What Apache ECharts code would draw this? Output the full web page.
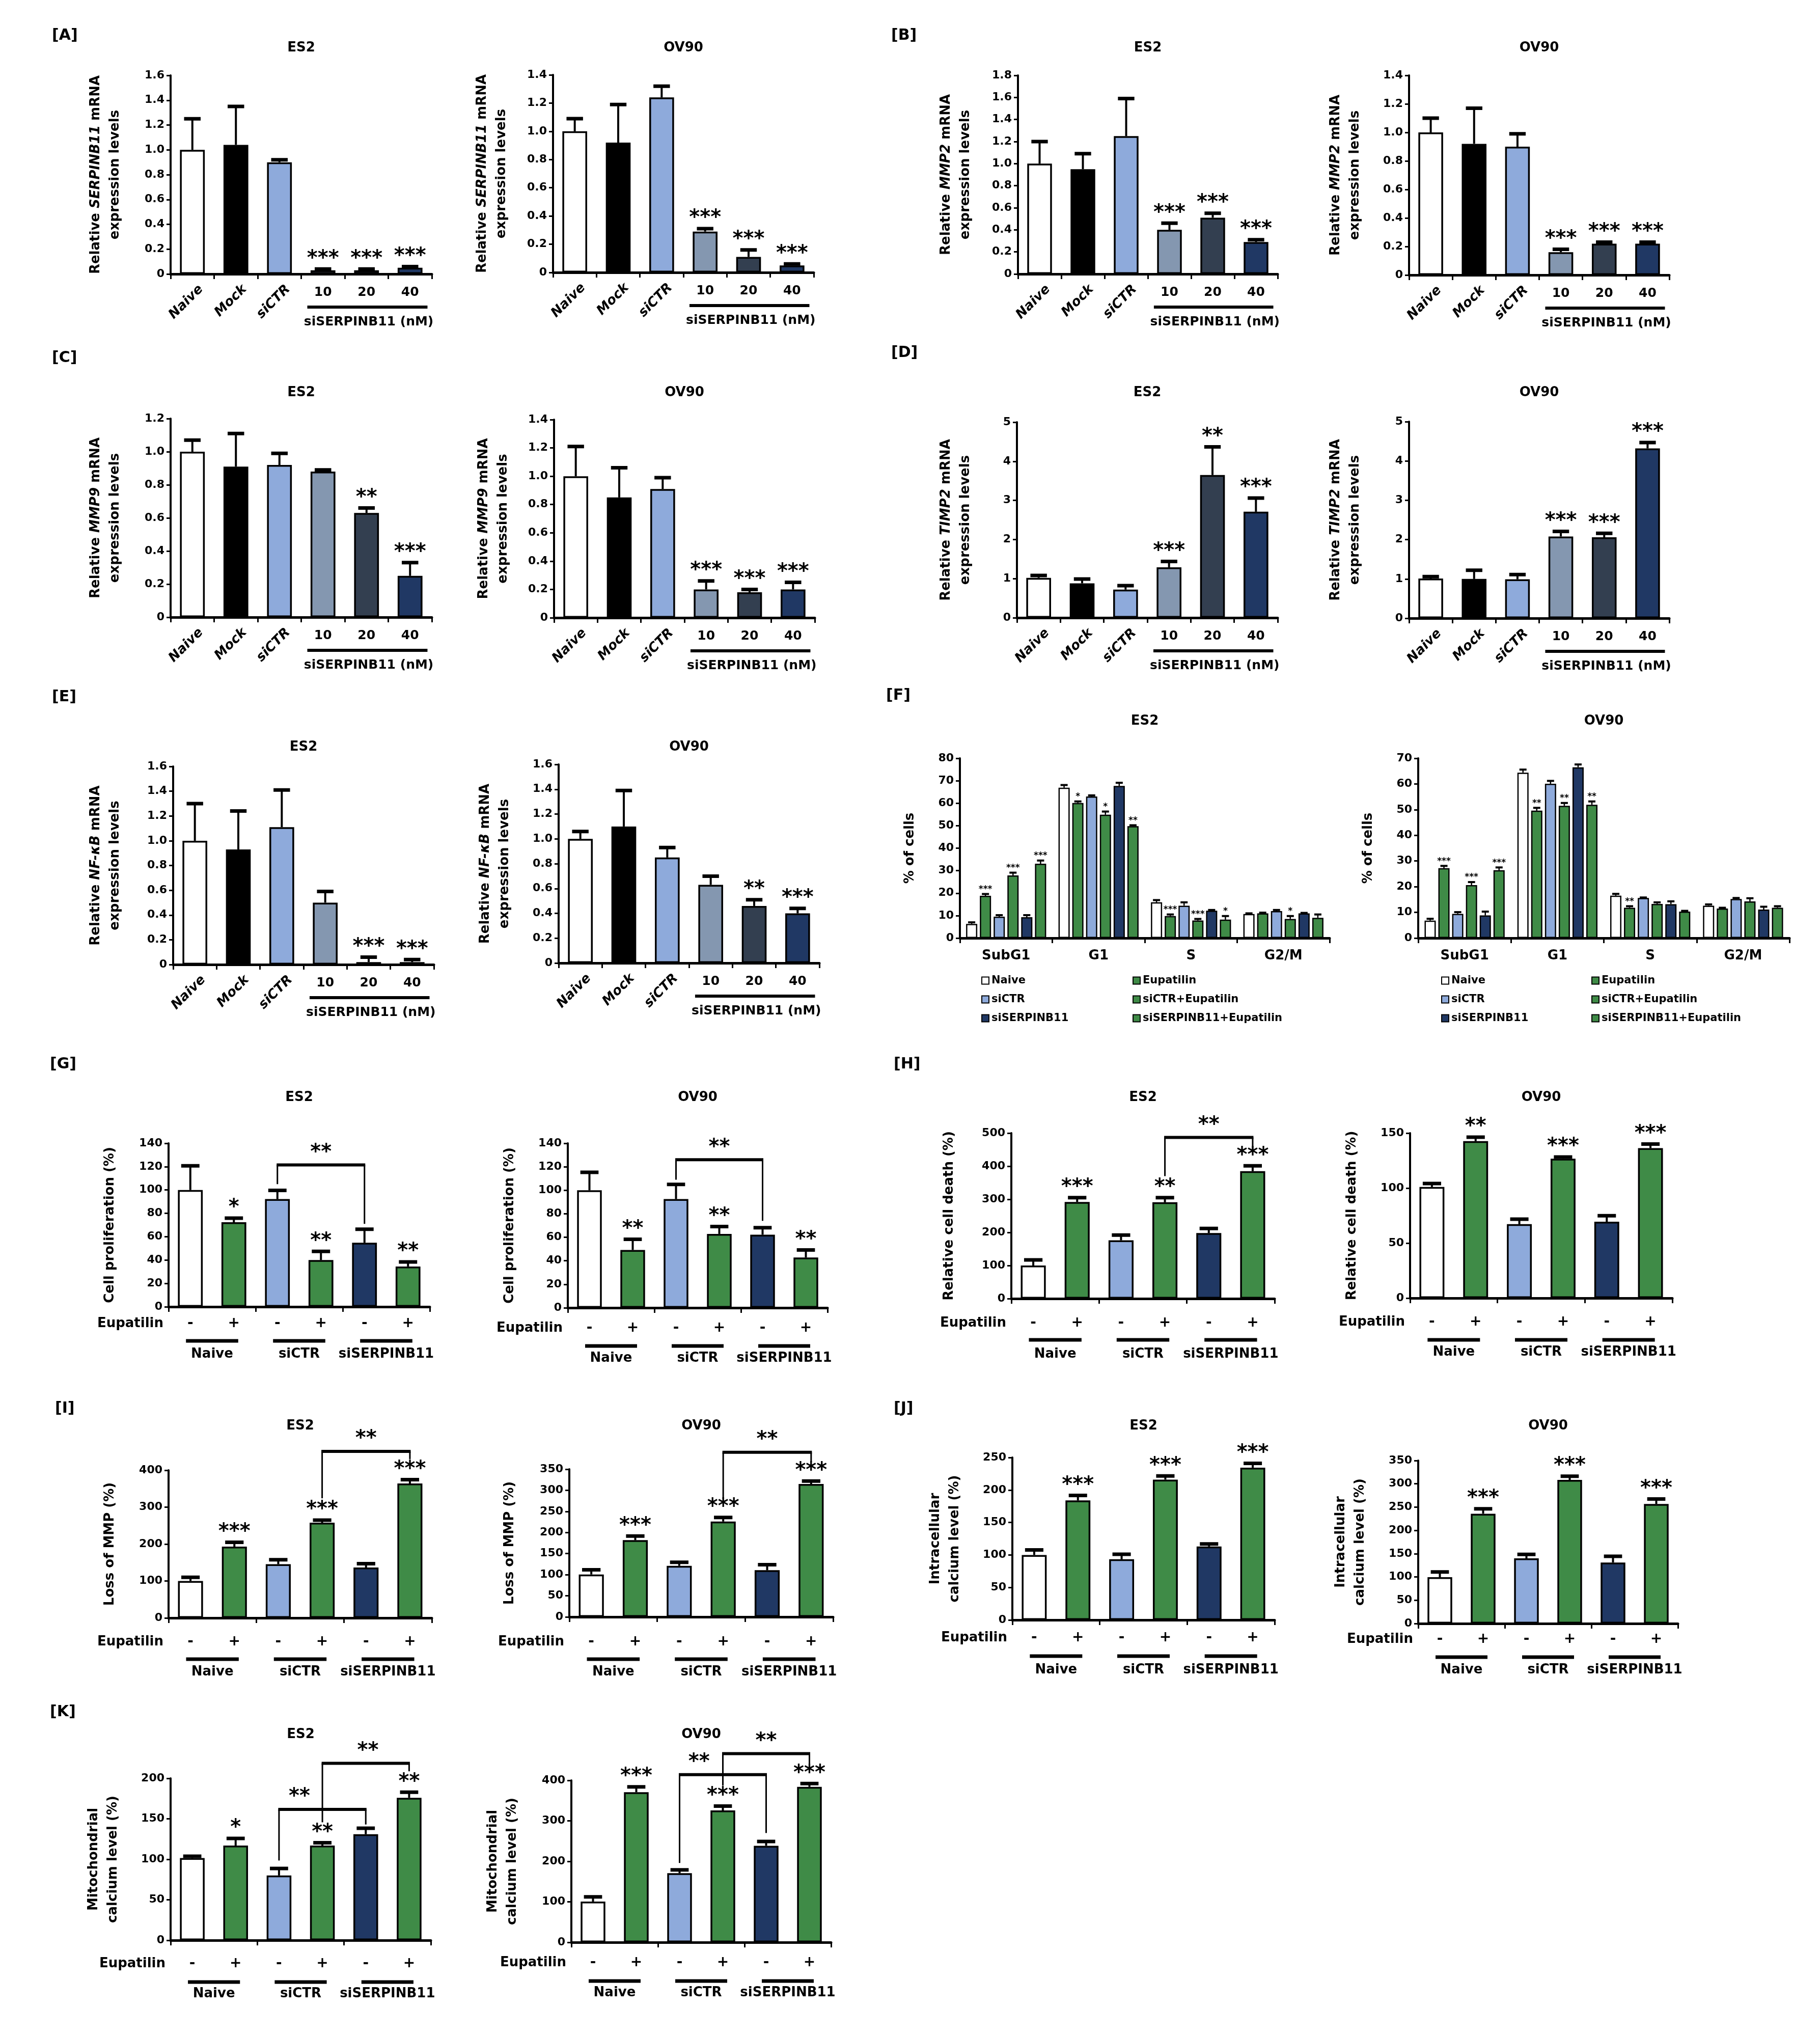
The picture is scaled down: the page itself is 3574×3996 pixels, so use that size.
<!DOCTYPE html>
<html><head><meta charset="utf-8">
<script src="https://cdn.jsdelivr.net/npm/echarts@6/dist/echarts.min.js"></script>
<style>html,body{margin:0;padding:0;background:#fff}#c{width:3574px;height:3996px}</style>
</head><body><div id="c"></div>
<script>
// ---------------- categories / labels ----------------
const doseCats = ['Naive', 'Mock', 'siCTR', '10', '20', '40'];
const doseGroupLabel = 'siSERPINB11 (nM)';
const eupCats = ['Naive -', 'Naive +', 'siCTR -', 'siCTR +', 'siSERPINB11 -', 'siSERPINB11 +'];
const eupSigns = ['-', '+', '-', '+', '-', '+'];
const eupGroups = ['Naive', 'siCTR', 'siSERPINB11'];
const phaseCats = ['SubG1', 'G1', 'S', 'G2/M'];
const cycleSeries = ['Naive', 'Eupatilin', 'siCTR', 'siCTR+Eupatilin', 'siSERPINB11', 'siSERPINB11+Eupatilin'];

// ---------------- [A] SERPINB11 ----------------
const A_ES2_mean = [1.00, 1.04, 0.90, 0.03, 0.03, 0.05];
const A_ES2_sd   = [0.25, 0.31, 0.02, 0.01, 0.01, 0.01];
const A_ES2_sig  = ['', '', '', '***', '***', '***'];
const A_OV90_mean = [1.00, 0.92, 1.24, 0.29, 0.11, 0.05];
const A_OV90_sd   = [0.09, 0.27, 0.08, 0.02, 0.05, 0.01];
const A_OV90_sig  = ['', '', '', '***', '***', '***'];
// ---------------- [B] MMP2 ----------------
const B_ES2_mean = [1.00, 0.95, 1.25, 0.40, 0.51, 0.29];
const B_ES2_sd   = [0.20, 0.14, 0.34, 0.06, 0.04, 0.02];
const B_ES2_sig  = ['', '', '', '***', '***', '***'];
const B_OV90_mean = [1.00, 0.92, 0.90, 0.16, 0.22, 0.22];
const B_OV90_sd   = [0.10, 0.25, 0.09, 0.02, 0.01, 0.01];
const B_OV90_sig  = ['', '', '', '***', '***', '***'];
// ---------------- [C] MMP9 ----------------
const C_ES2_mean = [1.00, 0.91, 0.92, 0.88, 0.63, 0.25];
const C_ES2_sd   = [0.07, 0.20, 0.07, 0.01, 0.03, 0.08];
const C_ES2_sig  = ['', '', '', '', '**', '***'];
const C_OV90_mean = [1.00, 0.85, 0.91, 0.20, 0.18, 0.20];
const C_OV90_sd   = [0.21, 0.21, 0.08, 0.06, 0.02, 0.05];
const C_OV90_sig  = ['', '', '', '***', '***', '***'];
// ---------------- [D] TIMP2 ----------------
const D_ES2_mean = [1.02, 0.88, 0.72, 1.29, 3.65, 2.71];
const D_ES2_sd   = [0.06, 0.11, 0.10, 0.15, 0.72, 0.35];
const D_ES2_sig  = ['', '', '', '***', '**', '***'];
const D_OV90_mean = [1.01, 1.00, 0.99, 2.08, 2.06, 4.32];
const D_OV90_sd   = [0.05, 0.22, 0.12, 0.13, 0.10, 0.15];
const D_OV90_sig  = ['', '', '', '***', '***', '***'];
// ---------------- [E] NF-kB ----------------
const E_ES2_mean = [1.00, 0.93, 1.11, 0.50, 0.02, 0.02];
const E_ES2_sd   = [0.30, 0.31, 0.30, 0.09, 0.04, 0.02];
const E_ES2_sig  = ['', '', '', '', '***', '***'];
const E_OV90_mean = [1.00, 1.10, 0.85, 0.63, 0.46, 0.40];
const E_OV90_sd   = [0.06, 0.29, 0.08, 0.07, 0.05, 0.04];
const E_OV90_sig  = ['', '', '', '', '**', '***'];
// ---------------- [F] cell cycle (rows = cycleSeries, cols = phaseCats) ----------------
const F_ES2_mean = [[6.3, 66.9, 15.9, 10.7], [18.8, 60.1, 9.8, 11.0], [9.5, 63.0, 14.4, 12.0],
                    [27.9, 54.9, 7.8, 8.5], [9.3, 67.7, 12.2, 11.0], [33.1, 49.8, 8.2, 9.0]];
const F_ES2_sd   = [[0.7, 1.2, 1.0, 0.3], [0.8, 0.7, 0.7, 0.3], [0.7, 0.5, 1.5, 0.5],
                    [1.2, 1.4, 0.7, 1.3], [0.9, 1.4, 0.3, 0.2], [1.4, 0.4, 1.6, 1.5]];
const F_ES2_sig  = [['', '', '', ''], ['***', '*', '***', ''], ['', '', '', ''],
                    ['***', '*', '***', '*'], ['', '', '', ''], ['***', '**', '*', '']];
const F_OV90_mean = [[6.8, 64.4, 16.5, 12.6], [27.2, 49.6, 11.8, 11.5], [9.4, 60.1, 15.6, 15.2],
                     [20.6, 51.5, 13.3, 14.3], [8.8, 66.5, 13.2, 11.1], [26.4, 51.9, 10.3, 11.8]];
const F_OV90_sd   = [[0.7, 1.2, 0.7, 0.5], [0.9, 1.1, 0.6, 0.3], [0.7, 1.1, 0.2, 0.4],
                     [1.2, 1.1, 0.6, 1.2], [1.5, 1.1, 1.1, 1.1], [1.1, 1.3, 0.3, 0.6]];
const F_OV90_sig  = [['', '', '', ''], ['***', '**', '**', ''], ['', '', '', ''],
                     ['***', '**', '', ''], ['', '', '', ''], ['***', '**', '', '']];
// ---------------- [G] proliferation ----------------
// brackets: [fromCat, toCat, top, leftEnd, rightEnd, label, labelCatX]
const G_ES2_mean = [100, 72.4, 92.2, 40.0, 54.8, 34.5];
const G_ES2_sd   = [20.7, 3.5, 7.5, 7.4, 11.6, 3.9];
const G_ES2_sig  = ['', '*', '', '**', '', '**'];
const G_ES2_brackets = [[2, 4, 121.5, 105, 71, '**', 3]];
const G_OV90_mean = [100, 49.2, 92.5, 62.9, 62.2, 42.8];
const G_OV90_sd   = [15.3, 9.1, 12.5, 6.2, 6.0, 6.4];
const G_OV90_sig  = ['', '**', '', '**', '', '**'];
const G_OV90_brackets = [[2, 4, 126, 109, 74, '**', 3]];
// ---------------- [H] cell death ----------------
const H_ES2_mean = [100, 292, 176, 291, 198, 385];
const H_ES2_sd   = [17, 13, 16, 14, 14, 16];
const H_ES2_sig  = ['', '***', '', '**', '', '***'];
const H_ES2_brackets = [[3, 5, 487, 370, 450, '**', 4]];
const H_OV90_mean = [101, 142.7, 67.2, 126.7, 69.4, 136.3];
const H_OV90_sd   = [3.2, 3.6, 4.6, 1.5, 5.5, 3.8];
const H_OV90_sig  = ['', '**', '', '***', '', '***'];
// ---------------- [I] loss of MMP ----------------
const I_ES2_mean = [100, 193, 145.5, 258, 136.5, 364];
const I_ES2_sd   = [10, 12, 12, 7, 10.5, 10.6];
const I_ES2_sig  = ['', '***', '', '***', '', '***'];
const I_ES2_brackets = [[3, 5, 451, 324, 430, '**', 4]];
const I_OV90_mean = [100.6, 182, 121, 226, 110.8, 315];
const I_OV90_sd   = [11, 9.6, 8.3, 9.5, 12.9, 7];
const I_OV90_sig  = ['', '***', '', '***', '', '***'];
const I_OV90_brackets = [[3, 5, 390, 279, 367, '**', 4]];
// ---------------- [J] intracellular calcium ----------------
const J_ES2_mean = [100, 184, 93.4, 216, 113, 234.4];
const J_ES2_sd   = [7.8, 7.6, 7.6, 5.6, 3.9, 6.6];
const J_ES2_sig  = ['', '***', '', '***', '', '***'];
const J_OV90_mean = [99.5, 235.8, 140, 308.4, 131, 256.8];
const J_OV90_sd   = [11.3, 10.5, 8.6, 8, 13.4, 10.5];
const J_OV90_sig  = ['', '***', '', '***', '', '***'];
// ---------------- [K] mitochondrial calcium ----------------
const K_ES2_mean = [101.5, 117, 80, 117, 131, 176];
const K_ES2_sd   = [2.3, 8.8, 8.7, 3.5, 7.3, 6.8];
const K_ES2_sig  = ['', '*', '', '**', '', '**'];
const K_ES2_brackets = [[2, 4, 161.6, 98.5, 143, '**', 2.47], [3, 5, 218.5, 145.7, 208.7, '**', 4.05]];
const K_OV90_mean = [100.7, 370.9, 170.6, 325.8, 238.4, 384];
const K_OV90_sd   = [11.6, 13.1, 8.4, 10.6, 10.6, 8];
const K_OV90_sig  = ['', '***', '', '***', '', '***'];
const K_OV90_brackets = [[2, 4, 414, 196, 270, '**', 2.45], [3, 5, 466, 387, 441, '**', 4.0]];

// ---------------- styles ----------------
const FF = '"DejaVu Sans", "Liberation Sans", Arial, sans-serif';
const fnt = (size, style) => (style ? style + ' ' : '') + 'bold ' + size + 'px ' + FF;
const doseColors = ['#ffffff', '#000000', '#8eaadb', '#8497b0', '#333f50', '#203864'];
const eupColors = ['#ffffff', '#3f8b47', '#8eaadb', '#3f8b47', '#203864', '#3f8b47'];
const cycleColors = ['#ffffff', '#3f8b47', '#8eaadb', '#3f8b47', '#203864', '#3f8b47'];
const STAR = fnt(40);
const NAME_LH = 38;

const option = {
  animation: false, backgroundColor: '#ffffff',
  textStyle: { fontFamily: FF },
  grid: [], xAxis: [], yAxis: [], series: [], legend: [],
  graphic: { elements: [] }
};
const GR = option.graphic.elements;

function txt(x, y, text, font, align, vAlign, extra) {
  return Object.assign({ type: 'text', x: x, y: y, silent: true,
    style: { text: text, font: font, fill: '#000', align: align || 'center', verticalAlign: vAlign || 'middle',
             textAlign: align || 'center', textVerticalAlign: vAlign || 'middle' } }, extra || {});
}

function nameStyle() {
  const base = { fontFamily: FF, fontSize: 26, fontWeight: 'bold', color: '#000', lineHeight: NAME_LH };
  return Object.assign({}, base, { rich: { b: Object.assign({}, base), i: Object.assign({ fontStyle: 'italic' }, base) } });
}

function addAxes(p, cats, fmt, showX) {
  const gi = option.grid.length;
  option.grid.push({ left: p.box[0], top: p.box[1], width: p.box[2], height: p.box[3] });
  option.xAxis.push({
    type: 'category', gridIndex: gi, data: cats,
    axisLine: { show: true, onZero: false, lineStyle: { color: '#000', width: 5 } },
    axisTick: { show: true, length: 10, lineStyle: { color: '#000', width: 3 } },
    axisLabel: showX ? { show: true, color: '#000', fontFamily: FF, fontSize: 26, fontWeight: 'bold', margin: 22 } : { show: false },
    splitLine: { show: false }
  });
  option.yAxis.push({
    type: 'value', gridIndex: gi, min: 0, max: p.max, interval: p.step,
    axisLine: { show: true, lineStyle: { color: '#000', width: 4 } },
    axisTick: { show: true, length: 8, lineStyle: { color: '#000', width: 3 } },
    axisLabel: { color: '#000', fontFamily: FF, fontSize: 22, fontWeight: 'bold', margin: 12, formatter: fmt },
    splitLine: { show: false },
    name: p.yName, nameLocation: 'middle', nameGap: p.nameD - NAME_LH / 2,
    nameTextStyle: nameStyle()
  });
  GR.push(txt(p.box[0] + p.box[2] / 2, p.titleY, p.title, fnt(26)));
  return gi;
}

function errSeries(gi, mean, sd, sig, capFrac, lw, capW, starFont, starGap) {
  return {
    type: 'custom', xAxisIndex: gi, yAxisIndex: gi, clip: false, silent: true, z: 5,
    data: mean.map((v, i) => [i, v, sd[i]]), encode: { x: 0, y: 1 },
    renderItem: (params, api) => {
      const i = api.value(0), v = api.value(1), e = api.value(2);
      const b = api.coord([i, v]), t = api.coord([i, v + e]);
      const hw = api.size([1, 0])[0] * capFrac;
      const ch = [
        { type: 'line', shape: { x1: b[0], y1: b[1], x2: t[0], y2: t[1] }, style: { stroke: '#000', lineWidth: lw } },
        { type: 'line', shape: { x1: t[0] - hw, y1: t[1], x2: t[0] + hw, y2: t[1] }, style: { stroke: '#000', lineWidth: capW } }
      ];
      const s = sig[params.dataIndex];
      if (s) ch.push(txt(t[0], t[1] - starGap, s, starFont));
      return { type: 'group', children: ch };
    }
  };
}

function bracketSeries(gi, brackets) {
  return {
    type: 'custom', xAxisIndex: gi, yAxisIndex: gi, clip: false, silent: true, z: 6,
    data: brackets.map(b => [b[0], b[2], b[1], b[3], b[4], b[6]]), encode: { x: 0, y: 1 },
    renderItem: (params, api) => {
      const from = api.value(0), top = api.value(1), to = api.value(2), le = api.value(3), re = api.value(4), lx = api.value(5);
      const a = api.coord([from, top]), c = api.coord([to, top]);
      const l = api.coord([from, le]), r = api.coord([to, re]);
      const band = api.size([1, 0])[0];
      const labelX = a[0] + (lx - from) * band;
      return { type: 'group', children: [
        { type: 'line', shape: { x1: l[0], y1: l[1], x2: a[0], y2: a[1] }, style: { stroke: '#000', lineWidth: 3 } },
        { type: 'line', shape: { x1: c[0], y1: c[1], x2: r[0], y2: r[1] }, style: { stroke: '#000', lineWidth: 3 } },
        { type: 'line', shape: { x1: a[0] - 1.5, y1: a[1], x2: c[0] + 1.5, y2: c[1] }, style: { stroke: '#000', lineWidth: 6 } },
        txt(labelX, a[1] - 24, brackets[params.dataIndex][5], STAR)
      ] };
    }
  };
}

function doseDecor(gi) {
  return {
    type: 'custom', xAxisIndex: gi, yAxisIndex: gi, clip: false, silent: true,
    data: doseCats.map((c, i) => [i, 0]), encode: { x: 0, y: 1 },
    renderItem: (params, api) => {
      const i = params.dataIndex, p = api.coord([i, 0]), band = api.size([1, 0])[0];
      const ch = [];
      if (i < 3) {
        ch.push(txt(p[0] + band * 0.2, p[1] + 26, doseCats[i], fnt(26, 'italic'), 'right', 'middle', { rotation: Math.PI / 4 }));
      } else {
        ch.push(txt(p[0], p[1] + 36, doseCats[i], fnt(25)));
      }
      if (i === 3) {
        const q = api.coord([5, 0]);
        ch.push({ type: 'rect', shape: { x: p[0] - band * 0.36, y: p[1] + 62, width: q[0] - p[0] + band * 0.76, height: 6 }, style: { fill: '#000' } });
        ch.push(txt((p[0] + q[0]) / 2 + band * 0.05, p[1] + 94, doseGroupLabel, fnt(25)));
      }
      return { type: 'group', children: ch };
    }
  };
}

function eupDecor(gi, off) {
  return {
    type: 'custom', xAxisIndex: gi, yAxisIndex: gi, clip: false, silent: true,
    data: eupCats.map((c, i) => [i, 0]), encode: { x: 0, y: 1 },
    renderItem: (params, api) => {
      const i = params.dataIndex, p = api.coord([i, 0]), band = api.size([1, 0])[0];
      const ch = [txt(p[0], p[1] + off[0], eupSigns[i], fnt(28))];
      if (i === 0) ch.push(txt(params.coordSys.x - 10, p[1] + off[0], 'Eupatilin', fnt(26), 'right'));
      if (i % 2 === 0) {
        const q = api.coord([i + 1, 0]), cx = (p[0] + q[0]) / 2;
        ch.push({ type: 'rect', shape: { x: cx - band * 0.6, y: p[1] + off[1] - 3.5, width: band * 1.2, height: 7 }, style: { fill: '#000' } });
        ch.push(txt(cx, p[1] + off[2], eupGroups[i / 2], fnt(26)));
      }
      return { type: 'group', children: ch };
    }
  };
}

const fmt1 = v => (v === 0 ? '0' : v.toFixed(1));
const fmt0 = v => String(Math.round(v));

function addDose(p) {
  p.yName = '{b|Relative }{i|' + p.gene + '}{b| mRNA}\n{b|expression levels}';
  const gi = addAxes(p, doseCats, p.step >= 1 ? fmt0 : fmt1, false);
  option.series.push({
    type: 'bar', name: p.id, xAxisIndex: gi, yAxisIndex: gi, barWidth: '57%', silent: true, z: 2,
    itemStyle: { borderColor: '#000', borderWidth: 3.5 },
    data: p.mean.map((v, i) => ({ value: v, itemStyle: { color: doseColors[i] } }))
  });
  option.series.push(errSeries(gi, p.mean, p.sd, p.sig, 0.19, 4, 7, STAR, 20));
  option.series.push(doseDecor(gi));
}

function addEup(p) {
  const gi = addAxes(p, eupCats, fmt0, false);
  option.series.push({
    type: 'bar', name: p.id, xAxisIndex: gi, yAxisIndex: gi, barWidth: '57%', silent: true, z: 2,
    itemStyle: { borderColor: '#000', borderWidth: 3.5 },
    data: p.mean.map((v, i) => ({ value: v, itemStyle: { color: eupColors[i] } }))
  });
  option.series.push(errSeries(gi, p.mean, p.sd, p.sig, 0.21, 4, 7, STAR, 20));
  if (p.brackets) option.series.push(bracketSeries(gi, p.brackets));
  option.series.push(eupDecor(gi, p.off));
}

function addCycle(p) {
  const gi = addAxes(p, phaseCats, fmt0, true);
  const BW = 22, GAP = 0.23;
  cycleSeries.forEach((name, k) => {
    option.series.push({
      type: 'bar', name: name, xAxisIndex: gi, yAxisIndex: gi, barWidth: BW, barGap: (GAP * 100) + '%', z: 2,
      itemStyle: { color: cycleColors[k], borderColor: '#000', borderWidth: 2.5 },
      data: p.mean[k]
    });
  });
  const flat = [];
  p.mean.forEach((row, k) => row.forEach((v, j) => flat.push([j, v, p.sd[k][j], k])));
  option.series.push({
    type: 'custom', xAxisIndex: gi, yAxisIndex: gi, clip: false, silent: true, z: 5,
    data: flat, encode: { x: 0, y: 1 },
    renderItem: (params, api) => {
      const j = api.value(0), v = api.value(1), e = api.value(2), k = api.value(3);
      const total = cycleSeries.length * BW + (cycleSeries.length - 1) * BW * GAP;
      const dx = -total / 2 + k * BW * (1 + GAP) + BW / 2;
      const b = api.coord([j, v]), t = api.coord([j, v + e]);
      const x = b[0] + dx;
      const ch = [
        { type: 'line', shape: { x1: x, y1: b[1], x2: x, y2: t[1] }, style: { stroke: '#000', lineWidth: 2.5 } },
        { type: 'line', shape: { x1: x - 7, y1: t[1], x2: x + 7, y2: t[1] }, style: { stroke: '#000', lineWidth: 4 } }
      ];
      const s = p.sig[k][j];
      if (s) ch.push(txt(x, t[1] - 9, s, fnt(17)));
      return { type: 'group', children: ch };
    }
  });
  const lg = (left, names) => ({
    orient: 'vertical', left: left, top: p.legendTop, itemWidth: 14, itemHeight: 14, itemGap: 16, icon: 'rect',
    selectedMode: false, padding: 0, data: names,
    itemStyle: { borderColor: '#000', borderWidth: 2 },
    textStyle: { fontFamily: FF, fontSize: 21, fontWeight: 'bold', color: '#000' }
  });
  option.legend.push(lg(p.legendX[0], [cycleSeries[0], cycleSeries[2], cycleSeries[4]]));
  option.legend.push(lg(p.legendX[1], [cycleSeries[1], cycleSeries[3], cycleSeries[5]]));
}

// ---------------- layout ----------------
addDose({ id: 'A_ES2', title: 'ES2', gene: 'SERPINB11', mean: A_ES2_mean, sd: A_ES2_sd, sig: A_ES2_sig, max: 1.6, step: 0.2, box: [335, 148, 513, 390], nameD: 109, titleY: 94 });
addDose({ id: 'A_OV90', title: 'OV90', gene: 'SERPINB11', mean: A_OV90_mean, sd: A_OV90_sd, sig: A_OV90_sig, max: 1.4, step: 0.2, box: [1086, 147, 512, 388], nameD: 101, titleY: 94 });
addDose({ id: 'B_ES2', title: 'ES2', gene: 'MMP2', mean: B_ES2_mean, sd: B_ES2_sd, sig: B_ES2_sig, max: 1.8, step: 0.2, box: [1999, 148, 510, 390], nameD: 103, titleY: 94 });
addDose({ id: 'B_OV90', title: 'OV90', gene: 'MMP2', mean: B_OV90_mean, sd: B_OV90_sd, sig: B_OV90_sig, max: 1.4, step: 0.2, box: [2767, 148, 511, 392], nameD: 106, titleY: 94 });
addDose({ id: 'C_ES2', title: 'ES2', gene: 'MMP9', mean: C_ES2_mean, sd: C_ES2_sd, sig: C_ES2_sig, max: 1.2, step: 0.2, box: [335, 822, 513, 390], nameD: 109, titleY: 771 });
addDose({ id: 'C_OV90', title: 'OV90', gene: 'MMP9', mean: C_OV90_mean, sd: C_OV90_sd, sig: C_OV90_sig, max: 1.4, step: 0.2, box: [1088, 824, 512, 389], nameD: 100, titleY: 771 });
addDose({ id: 'D_ES2', title: 'ES2', gene: 'TIMP2', mean: D_ES2_mean, sd: D_ES2_sd, sig: D_ES2_sig, max: 5, step: 1, box: [1997, 829, 512, 384], nameD: 101, titleY: 771 });
addDose({ id: 'D_OV90', title: 'OV90', gene: 'TIMP2', mean: D_OV90_mean, sd: D_OV90_sd, sig: D_OV90_sig, max: 5, step: 1, box: [2767, 828, 511, 386], nameD: 106, titleY: 771 });
addDose({ id: 'E_ES2', title: 'ES2', gene: 'NF-κB', mean: E_ES2_mean, sd: E_ES2_sd, sig: E_ES2_sig, max: 1.6, step: 0.2, box: [340, 1505, 512, 389], nameD: 114, titleY: 1467 });
addDose({ id: 'E_OV90', title: 'OV90', gene: 'NF-κB', mean: E_OV90_mean, sd: E_OV90_sd, sig: E_OV90_sig, max: 1.6, step: 0.2, box: [1097, 1501, 512, 390], nameD: 106, titleY: 1467 });

addCycle({ id: 'F_ES2', title: 'ES2', yName: '% of cells', mean: F_ES2_mean, sd: F_ES2_sd, sig: F_ES2_sig, max: 80, step: 10, box: [1885, 1489, 726, 353], nameD: 98, titleY: 1416, legendTop: 1915, legendX: [1927, 2224] });
addCycle({ id: 'F_OV90', title: 'OV90', yName: '% of cells', mean: F_OV90_mean, sd: F_OV90_sd, sig: F_OV90_sig, max: 70, step: 10, box: [2785, 1489, 729, 353], nameD: 98, titleY: 1416, legendTop: 1915, legendX: [2830, 3125] });

addEup({ id: 'G_ES2', title: 'ES2', yName: 'Cell proliferation (%)', mean: G_ES2_mean, sd: G_ES2_sd, sig: G_ES2_sig, brackets: G_ES2_brackets, max: 140, step: 20, box: [331, 2245, 513, 321], nameD: 115, titleY: 2155, off: [33, 67, 93] });
addEup({ id: 'G_OV90', title: 'OV90', yName: 'Cell proliferation (%)', mean: G_OV90_mean, sd: G_OV90_sd, sig: G_OV90_sig, brackets: G_OV90_brackets, max: 140, step: 20, box: [1115, 2245, 510, 323], nameD: 114, titleY: 2155, off: [40, 75, 99] });
addEup({ id: 'H_ES2', title: 'ES2', yName: 'Relative cell death (%)', mean: H_ES2_mean, sd: H_ES2_sd, sig: H_ES2_sig, brackets: H_ES2_brackets, max: 500, step: 100, box: [1986, 2225, 517, 325], nameD: 122, titleY: 2155, off: [48, 81, 109] });
addEup({ id: 'H_OV90', title: 'OV90', yName: 'Relative cell death (%)', mean: H_OV90_mean, sd: H_OV90_sd, sig: H_OV90_sig, max: 150, step: 50, box: [2769, 2225, 515, 324], nameD: 114, titleY: 2155, off: [47, 82, 106] });
addEup({ id: 'I_ES2', title: 'ES2', yName: 'Loss of MMP (%)', mean: I_ES2_mean, sd: I_ES2_sd, sig: I_ES2_sig, brackets: I_ES2_brackets, max: 400, step: 100, box: [331, 2887, 517, 290], nameD: 115, titleY: 2800, off: [47, 81, 106] });
addEup({ id: 'I_OV90', title: 'OV90', yName: 'Loss of MMP (%)', mean: I_OV90_mean, sd: I_OV90_sd, sig: I_OV90_sig, brackets: I_OV90_brackets, max: 350, step: 50, box: [1118, 2885, 518, 290], nameD: 117, titleY: 2800, off: [49, 83, 108] });
addEup({ id: 'J_ES2', title: 'ES2', yName: 'Intracellular\ncalcium level (%)', mean: J_ES2_mean, sd: J_ES2_sd, sig: J_ES2_sig, max: 250, step: 50, box: [1988, 2862, 515, 319], nameD: 113, titleY: 2800, off: [35, 71, 98] });
addEup({ id: 'J_OV90', title: 'OV90', yName: 'Intracellular\ncalcium level (%)', mean: J_OV90_mean, sd: J_OV90_sd, sig: J_OV90_sig, max: 350, step: 50, box: [2785, 2868, 510, 320], nameD: 114, titleY: 2800, off: [31, 66, 91] });
addEup({ id: 'K_ES2', title: 'ES2', yName: 'Mitochondrial\ncalcium level (%)', mean: K_ES2_mean, sd: K_ES2_sd, sig: K_ES2_sig, brackets: K_ES2_brackets, max: 200, step: 50, box: [335, 3492, 511, 318], nameD: 113, titleY: 3406, off: [46, 82, 105] });
addEup({ id: 'K_OV90', title: 'OV90', yName: 'Mitochondrial\ncalcium level (%)', mean: K_OV90_mean, sd: K_OV90_sd, sig: K_OV90_sig, brackets: K_OV90_brackets, max: 400, step: 100, box: [1122, 3496, 510, 318], nameD: 116, titleY: 3406, off: [40, 76, 99] });

// panel letters
[['[A]', 102, 70], ['[B]', 1750, 70], ['[C]', 102, 703], ['[D]', 1750, 693], ['[E]', 102, 1369], ['[F]', 1740, 1366],
 ['[G]', 98, 2090], ['[H]', 1755, 2090], ['[I]', 108, 2766], ['[J]', 1755, 2766], ['[K]', 98, 3362]]
  .forEach(l => GR.push(txt(l[1], l[2], l[0], fnt(30), 'left')));

const chart = echarts.init(document.getElementById('c'), null, { renderer: 'canvas', width: 3574, height: 3996 });
chart.setOption(option);
</script></body></html>
